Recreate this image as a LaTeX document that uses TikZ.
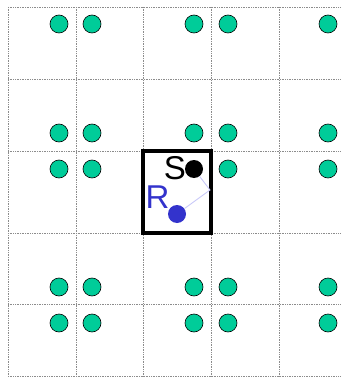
\documentclass[tikz,border=0pt]{standalone}
\usepackage{fontspec}
\setmainfont{Liberation Sans}
\usetikzlibrary{positioning}
\definecolor{seed}{HTML}{00CC99}
\definecolor{recv}{HTML}{3333CC}
\definecolor{ray}{HTML}{C8C8F8}
\definecolor{gridgray}{HTML}{8C8C8C}

\begin{document}
\begin{tikzpicture}[x=1pt,y=-1pt,
    cell/.style={gridgray,densely dotted,line width=0.7pt},
    img/.style={circle,draw=black,fill=seed,minimum size=18pt,inner sep=0pt,line width=0.6pt},
    dot/.style={circle,fill=#1,minimum size=18pt,inner sep=0pt},
    lab/.style={font=\fontsize{33}{34}\selectfont,inner sep=0pt}]
    \useasboundingbox (0,0) rectangle (340,377);
    % room grid
    \foreach \x in {8,76,143,211,279}
      \draw[cell] (\x,7) -- (\x,376);
    \foreach \y in {7,79,151,233,304,376}
      \draw[cell] (8,\y) -- (340,\y);
    % image sources
    \foreach \y [count=\r] in {24,133,169,287,323}
      \foreach \x [count=\c] in {59,92,194,228,328}{
        \ifnum\r\c=33 \else \node[img] (i\r\c) at (\x,\y) {}; \fi}
    % the real room
    \node[draw,line width=4pt,minimum width=68pt,minimum height=82pt,inner sep=0pt] (room) at (177,192) {};
    \node[dot=black] (S) at (194,169) {};
    \node[dot=recv] (R) at (177,214) {};
    \node[lab] (slab) at (175,168) {S};
    \node[lab,text=recv] (rlab) at (157.5,197.5) {R};
    \coordinate (hit) at (210,190);
    \draw[ray,line width=0.9pt] (R) -- (hit) -- (S);
  \end{tikzpicture}
\end{document}
